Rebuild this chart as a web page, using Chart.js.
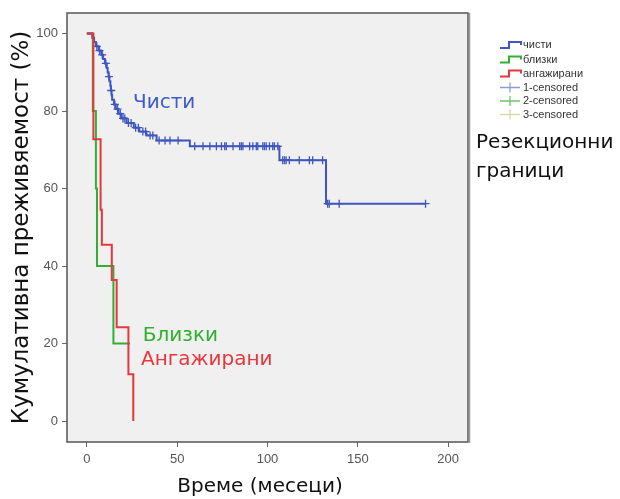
<!DOCTYPE html>
<html>
<head>
<meta charset="utf-8">
<script src="https://cdn.jsdelivr.net/npm/chart.js@4.4.1/dist/chart.umd.min.js"></script>
<style>
  html, body { margin: 0; padding: 0; background: #fff; }
</style>
</head>
<body>
<canvas id="kmChart" width="620" height="499"></canvas>
<script>
// Kaplan-Meier: преживяемост по резекционни граници
const chistiTime = [0, 3, 4, 5, 6.5, 8, 9, 10, 11, 11.5, 12, 12.5, 13, 13.3, 13.7, 14, 15, 16, 17.5, 19, 22, 26, 29, 33, 38.6, 57, 106.6, 132.4, 187.5];
const chistiSurv = [100, 98.9, 97.8, 96.7, 95.6, 94.5, 93.4, 92.3, 91.1, 90, 88.9, 87.7, 86.5, 85.3, 84.1, 82.9, 81.7, 80.5, 79.3, 78.1, 76.9, 75.7, 74.7, 73.7, 72.4, 70.9, 67.3, 56.1, 56.1];
const chistiCensored = [5.5, 7, 8.5, 10.5, 12.2, 13.5, 15.5, 17, 18.5, 20, 21, 23, 24.5, 27, 28.5, 31, 32.5, 35, 36.5, 40, 43.3, 46, 50.5,
  59.7, 64.3, 68.1, 71.7, 74.5, 76.3, 77.2, 80.9, 84.6, 85.5, 86.4, 90.1, 91.9, 93.8, 94.6, 97.4, 98.3, 99.3, 101.1, 102.9, 103.8, 105.7,
  108.4, 109.4, 110.3, 112.1, 117.6, 123.2, 125, 130.5, 133.3, 134.2, 139.7, 187.5];

const blizkiTime = [0, 3.3, 5, 5.6, 14.7, 23.9];
const blizkiSurv = [100, 80, 60, 40, 20, 20];

const angazhiraniTime = [0, 3.6, 7.6, 8.3, 13.8, 16.5, 23, 25.7];
const angazhiraniSurv = [100, 72.7, 54.5, 45.5, 36.4, 24.2, 12.1, 0];

const xTicks = [0, 50, 100, 150, 200];
const yTicks = [0, 20, 40, 60, 80, 100];

const legendLabels = ["чисти", "близки", "ангажирани", "1-censored", "2-censored", "3-censored"];

const BLUE = "#3f55c0";
const GREEN = "#35ad35";
const RED = "#e8363d";
const legendColors = [BLUE, GREEN, RED, "#8d9ddb", "#72c472", "#d9d9a8"];

// надписи до кривите (в координати на данните)
const curveLabels = [
  { text: "Чисти", t: 25.5, s: 82.2, color: "#3b5ccb" },
  { text: "Близки", t: 31, s: 21.9, color: "#2fb02f" },
  { text: "Ангажирани", t: 30, s: 15.7, color: "#e8363d" }
];

function toPoints(times, surv) {
  return times.map((t, i) => ({ x: t, y: surv[i] }));
}

function survAt(times, surv, t) {
  let s = surv[0];
  for (let i = 0; i < times.length; i++) {
    if (times[i] <= t) s = surv[i];
  }
  return s;
}

const TXT_FONT = "DejaVu Sans";
const TICK_FONT = "Liberation Sans";

const framePlugin = {
  id: "framePlugin",
  beforeDraw(chart) {
    const { ctx, chartArea: a } = chart;
    ctx.save();
    ctx.fillStyle = "#f0f0f0";
    ctx.fillRect(a.left, a.top, a.right - a.left, a.bottom - a.top);
    ctx.restore();
  },
  afterDraw(chart) {
    const { ctx, chartArea: a, scales } = chart;
    ctx.save();
    // рамка
    ctx.strokeStyle = "#555";
    ctx.lineWidth = 1.5;
    ctx.strokeRect(a.left, a.top, a.right - a.left, a.bottom - a.top);
    ctx.strokeStyle = "#9a9a9a";
    ctx.lineWidth = 1.5;
    ctx.beginPath();
    ctx.moveTo(a.right + 1.5, a.top);
    ctx.lineTo(a.right + 1.5, a.bottom + 1);
    ctx.stroke();

    // надписи на кривите
    ctx.font = "20px '" + TXT_FONT + "'";
    ctx.textBaseline = "middle";
    ctx.textAlign = "left";
    curveLabels.forEach(l => {
      ctx.fillStyle = l.color;
      ctx.fillText(l.text, scales.x.getPixelForValue(l.t), scales.y.getPixelForValue(l.s));
    });

    // заглавие на оста X
    ctx.fillStyle = "#111";
    ctx.textAlign = "center";
    ctx.fillText("Време (месеци)", 260, 487);

    // легенда
    const lx = 500, rows = [45, 59.5, 73.5, 87.5, 101, 114.5];
    ctx.font = "11px '" + TICK_FONT + "'";
    ctx.textAlign = "left";
    legendLabels.forEach((lab, i) => {
      const y = rows[i];
      ctx.strokeStyle = legendColors[i];
      ctx.lineWidth = 2;
      ctx.beginPath();
      if (i < 3) {
        ctx.moveTo(lx, y + 3);
        ctx.lineTo(lx + 9, y + 3);
        ctx.lineTo(lx + 9, y - 3);
        ctx.lineTo(lx + 21, y - 3);
        ctx.lineTo(lx + 21, y);
      } else {
        ctx.lineWidth = 1.3;
        ctx.moveTo(lx, y);
        ctx.lineTo(lx + 20, y);
        ctx.moveTo(lx + 10, y - 5);
        ctx.lineTo(lx + 10, y + 5);
      }
      ctx.stroke();
      ctx.fillStyle = "#333";
      ctx.fillText(lab, lx + 23, y);
    });

    // заглавие на легендата
    ctx.font = "20px '" + TXT_FONT + "'";
    ctx.fillStyle = "#111";
    ctx.fillText("Резекционни", 476, 143);
    ctx.fillText("граници", 476, 172);
    ctx.restore();
  }
};

const stepLine = (label, times, surv, color, order) => ({
  label: label,
  data: toPoints(times, surv),
  borderColor: color,
  borderWidth: 2,
  pointRadius: 0,
  stepped: true,
  fill: false,
  order: order
});

const ctx = document.getElementById("kmChart").getContext("2d");
new Chart(ctx, {
  type: "line",
  data: {
    datasets: [
      stepLine("ангажирани", angazhiraniTime, angazhiraniSurv, RED, 1),
      {
        label: "1-censored",
        data: chistiCensored.map(t => ({ x: t, y: survAt(chistiTime, chistiSurv, t) })),
        showLine: false,
        pointStyle: "cross",
        pointRadius: 4,
        borderColor: BLUE,
        borderWidth: 1.3,
        order: 2
      },
      stepLine("чисти", chistiTime, chistiSurv, BLUE, 3),
      stepLine("близки", blizkiTime, blizkiSurv, GREEN, 4)
    ]
  },
  options: {
    responsive: false,
    animation: false,
    layout: { padding: { top: 13, right: 152, left: 0, bottom: 0 } },
    plugins: { legend: { display: false }, tooltip: { enabled: false } },
    scales: {
      x: {
        type: "linear",
        min: -11,
        max: 211,
        afterBuildTicks: s => { s.ticks = xTicks.map(v => ({ value: v })); },
        afterFit: s => { s.height = 57; },
        grid: { drawOnChartArea: false, tickLength: 5, color: "#666", tickWidth: 1 },
        border: { display: false },
        ticks: { color: "#555", padding: 5, maxRotation: 0, font: { family: TICK_FONT, size: 13 } }
      },
      y: {
        min: -5.4,
        max: 105.3,
        afterBuildTicks: s => { s.ticks = yTicks.map(v => ({ value: v })); },
        afterFit: s => { s.width = 67; },
        grid: { drawOnChartArea: false, tickLength: 5, color: "#666", tickWidth: 1 },
        border: { display: false },
        ticks: { color: "#555", padding: 4, font: { family: TICK_FONT, size: 13 } },
        title: {
          display: true,
          text: "Кумулативна преживяемост (%)",
          color: "#111",
          font: { family: TXT_FONT, size: 23 },
          padding: { top: 8, bottom: 0 }
        }
      }
    }
  },
  plugins: [framePlugin]
});
</script>
</body>
</html>
